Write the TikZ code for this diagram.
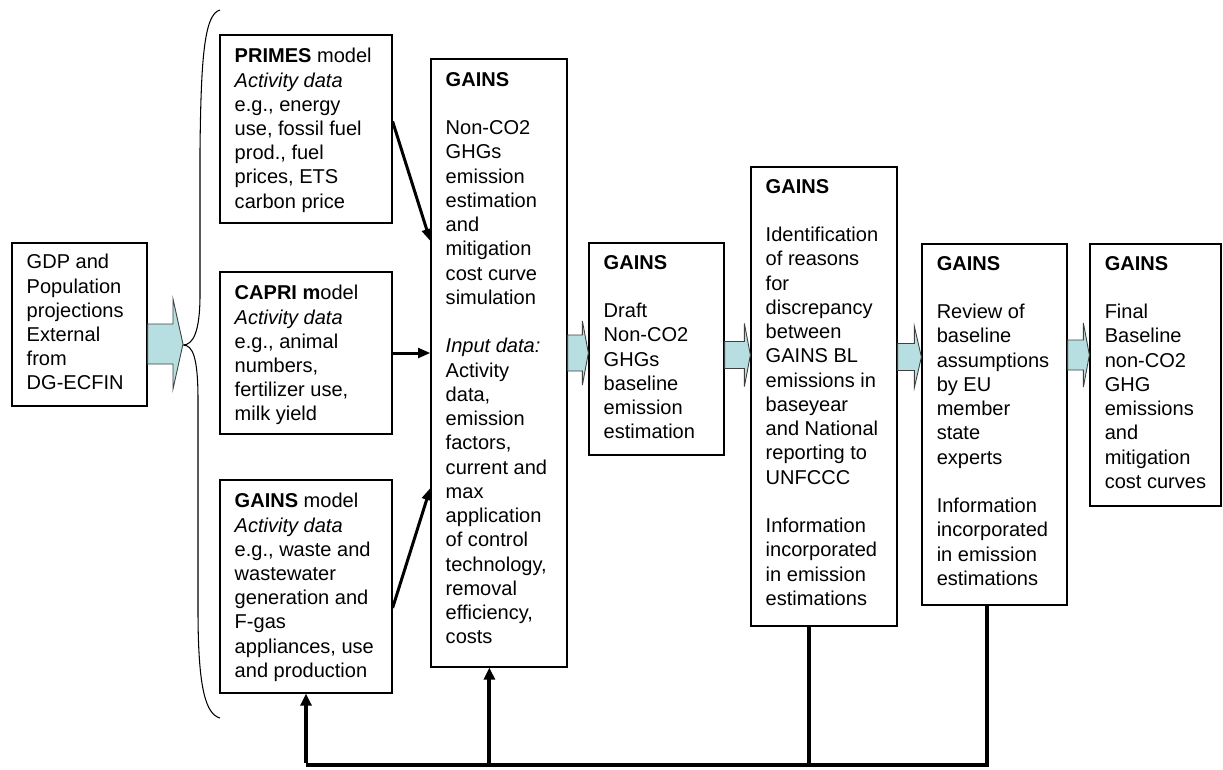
\documentclass[tikz,border=0pt]{standalone}
\usepackage{fontspec}
\setmainfont{Liberation Sans}
\usetikzlibrary{calc,fit,arrows.meta}
\definecolor{arrowfill}{RGB}{183,222,224}
\tikzset{
  box/.style={draw, line width=0.7pt, inner sep=0pt},
  txt/.style={anchor=north west, align=left, inner sep=0pt,
    font=\fontsize{11.4pt}{13.8pt}\selectfont},
  link/.style={line width=1.7pt, -{Triangle[length=7pt,width=5.5pt]}},
  feed/.style={line width=2.3pt},
  feedup/.style={feed, -{Triangle[length=6.8pt,width=6.2pt]}},
  fat/.style={draw=black!75, line width=0.5pt, fill=arrowfill}
}
% block arrow: from, to, y, half shaft, half head, head length
\newcommand{\fatarrow}[6]{%
  \draw[fat] ($(#1.east|-0,#3)+(0,-#4)$) -- ($(#2.west|-0,#3)+(-#6,-#4)$)
    -- ($(#2.west|-0,#3)+(-#6,-#5)$) -- (#2.west|-0,#3)
    -- ($(#2.west|-0,#3)+(-#6,#5)$) -- ($(#2.west|-0,#3)+(-#6,#4)$)
    -- ($(#1.east|-0,#3)+(0,#4)$) -- cycle;}
\begin{document}
\begin{tikzpicture}[x=0.02cm,y=-0.02cm]
\useasboundingbox (0,0) rectangle (1223,769);

% boxes
\node[box, fit={(12,243) (147,406)}] (gdp) {};
\node[box, fit={(220,35) (392,223)}] (primes) {};
\node[box, fit={(220,272) (392,434)}] (capri) {};
\node[box, fit={(220,480) (392,693)}] (gmodel) {};
\node[box, fit={(431,59) (567,667)}] (gains) {};
\node[box, fit={(589,243) (724,455)}] (draft) {};
\node[box, fit={(751,167) (897,626)}] (ident) {};
\node[box, fit={(922,244) (1067,605)}] (review) {};
\node[box, fit={(1090,244) (1221,506)}] (final) {};

% texts
\node[txt] (gdp-t) at ($(gdp.north west)+(15,11.5)$)
  {GDP and\\Population\\projections\\External\\from\\DG-ECFIN};
\node[txt] (primes-t) at ($(primes.north west)+(15,13.5)$)
  {\textbf{PRIMES} model\\\textit{Activity data}\\e.g., energy\\use, fossil fuel\\prod., fuel\\prices, ETS\\carbon price};
\node[txt] (capri-t) at ($(capri.north west)+(15,13.5)$)
  {\textbf{CAPRI m}odel\\\textit{Activity data}\\e.g., animal\\numbers,\\fertilizer use,\\milk yield};
\node[txt] (gmodel-t) at ($(gmodel.north west)+(15,13.5)$)
  {\textbf{GAINS} model\\\textit{Activity data}\\e.g., waste and\\wastewater\\generation and\\F-gas\\appliances, use\\and production};
\node[txt] (gains-t) at ($(gains.north west)+(15,13.5)$)
  {\textbf{GAINS}\\[13.8pt]Non-CO2\\GHGs\\emission\\estimation\\and\\mitigation\\cost curve\\simulation\\[13.8pt]\textit{Input data:}\\Activity\\data,\\emission\\factors,\\current and\\max\\application\\of control\\technology,\\removal\\efficiency,\\costs};
\node[txt] (draft-t) at ($(draft.north west)+(15,12.5)$)
  {\textbf{GAINS}\\[13.8pt]Draft\\Non-CO2\\GHGs\\baseline\\emission\\estimation};
\node[txt] (ident-t) at ($(ident.north west)+(15,12.5)$)
  {\textbf{GAINS}\\[13.8pt]Identification\\of reasons\\for\\discrepancy\\between\\GAINS BL\\emissions in\\baseyear\\and National\\reporting to\\UNFCCC\\[13.8pt]Information\\incorporated\\in emission\\estimations};
\node[txt] (review-t) at ($(review.north west)+(15,12.5)$)
  {\textbf{GAINS}\\[13.8pt]Review of\\baseline\\assumptions\\by EU\\member\\state\\experts\\[13.8pt]Information\\incorporated\\in emission\\estimations};
\node[txt] (final-t) at ($(final.north west)+(15,12.5)$)
  {\textbf{GAINS}\\[13.8pt]Final\\Baseline\\non-CO2\\GHG\\emissions\\and\\mitigation\\cost curves};

% brace round the three models
\coordinate (brtip) at (183,345);
\draw[line width=0.6pt] (220,10) .. controls (204,14) and (201,60) .. (200,150)
  -- (200,295) .. controls (200,332) and (193,345) .. (brtip)
  .. controls (193,345) and (198,358) .. (198,400)
  -- (198,610) .. controls (198,690) and (206,714) .. (220,718);

% block arrows
\fatarrow{gdp}{brtip}{344}{20}{45}{10}
\fatarrow{gains}{draft}{353}{18}{32}{6}
\fatarrow{draft}{ident}{355}{13.5}{31.5}{6}
\fatarrow{ident}{review}{357}{13.5}{30.5}{7}
\fatarrow{review}{final}{355}{15}{32}{6}

% model inputs
\draw[link] ($(primes.north east)!0.46!(primes.south east)$) -- ($(gains.north west)!0.3!(gains.south west)$);
\draw[link] (capri.east) -- (gains.west|-capri.east);
\draw[link] ($(gmodel.north east)!0.6!(gmodel.south east)$) -- ($(gains.north west)!0.705!(gains.south west)$);

% feedback
\coordinate (fb) at (0,765);
\coordinate (ident-foot) at ($(ident.south west)!0.4!(ident.south east)$);
\coordinate (review-foot) at ($(review.south west)!0.45!(review.south east)$);
\coordinate (gains-foot) at ($(gains.south west)!0.43!(gains.south east)$);
\draw[feed] (ident-foot) -- (ident-foot|-fb);
\draw[feed] (review-foot) |- (gmodel.south|-fb);
\draw[feedup] ([yshift=1.15pt]gmodel.south|-fb) -- (gmodel.south);
\draw[feedup] (gains-foot|-fb) -- (gains-foot);
\end{tikzpicture}
\end{document}
